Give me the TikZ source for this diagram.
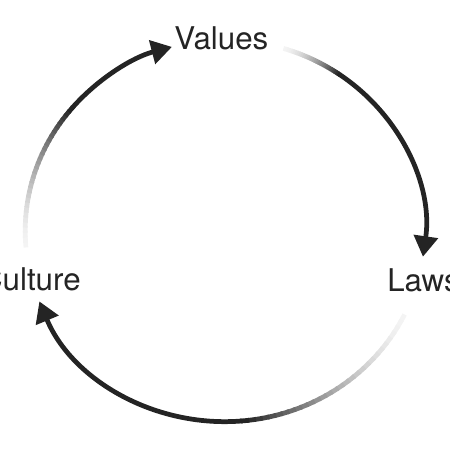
\documentclass[tikz,border=0pt]{standalone}
\usepackage{fontspec}
\setmainfont{TeX Gyre Heros}
\usetikzlibrary{arrows.meta}
\definecolor{inkdark}{HTML}{242424}

\begin{document}
\begin{tikzpicture}[
  cyclelabel/.style={font=\fontsize{19.8}{24}\selectfont, text=inkdark, inner sep=0pt},
  cyclearc/.style={line width=3pt, draw=inkdark},
  cycletip/.style={-{Triangle[length=13pt,width=15pt]}}
]
  \useasboundingbox (0,0) rectangle (10,10);
  % Centre and radii of the cycle
  \coordinate (c) at (5,4.87);
  \def\rx{4.44}
  \def\ry{4.24}

  % Labels
  \node[cyclelabel, anchor=base] (values) at (4.92,8.91) {Values};
  \node[cyclelabel, anchor=base west] (laws) at (8.6,3.53) {Laws};
  \node[cyclelabel, anchor=base east] (culture) at (1.8,3.54) {Culture};

  % Arcs: start / end of fade / tip
  \foreach \from/\dark/\to in {185/140/105.4, 73/55/-7.8, -26/-85/-158.3} {
    % faded part
    \foreach \i in {0,...,29} {
      \pgfmathsetmacro{\a}{\from+(\dark-\from)*\i/30}
      \pgfmathsetmacro{\b}{\from+(\dark-\from)*(\i+1.3)/30}
      \pgfmathsetmacro{\p}{5+95*(\i/29)^1.6}
      \draw[cyclearc, draw=inkdark!\p!white]
        ([shift={(c)}]\a:\rx cm and \ry cm)
        arc[start angle=\a, end angle=\b, x radius=\rx, y radius=\ry];
    }
    % dark part with tip
    \draw[cyclearc, cycletip]
      ([shift={(c)}]\dark:\rx cm and \ry cm)
      arc[start angle=\dark, end angle=\to, x radius=\rx, y radius=\ry];
  }
\end{tikzpicture}
\end{document}
